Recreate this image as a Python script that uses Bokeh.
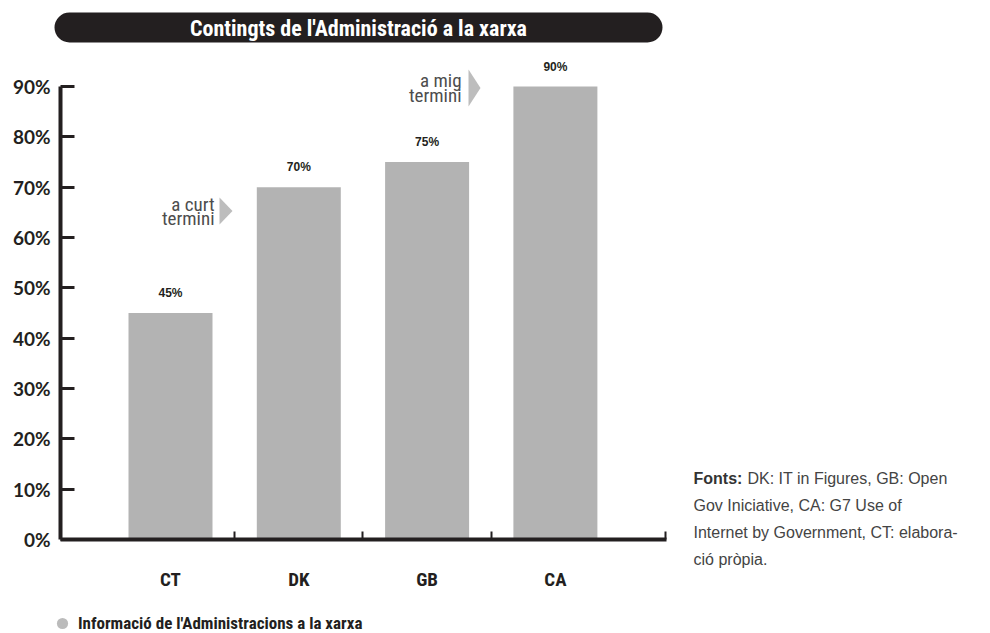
from bokeh.plotting import figure
from bokeh.models import (Range1d, FixedTicker, BoxAnnotation, Legend, LegendItem, Label)
from bokeh.core.properties import value
from bokeh.embed import file_html
from bokeh.resources import INLINE

# ---- data ----
categories = ["CT", "DK", "GB", "CA"]
values = [45, 70, 75, 90]
value_labels = ["45%", "70%", "75%", "90%"]
y_ticks = [0, 10, 20, 30, 40, 50, 60, 70, 80, 90]
y_tick_labels = ["0%", "10%", "20%", "30%", "40%", "50%", "60%", "70%", "80%", "90%"]
title_text = "Contingts de l'Administració a la xarxa"
legend_label = "Informació de l'Administracions a la xarxa"
note_head = "Fonts:"
note_lines = ["DK: IT in Figures, GB: Open", "Gov Iniciative, CA: G7 Use of",
              "Internet by Government, CT: elabora-", "ció pròpia."]

# ---- pixel <-> data helpers (layout only) ----
X0, DX = 170.0, 128.3
Y0, DY = 539.0, 453.0 / 90.0
def fx(sx):
    return (sx - X0) / DX
def fy(sy):
    return (Y0 - sy) / DY

W, H = 990, 633
COND = "Roboto Condensed, Roboto"
DARK = "#231f20"

p = figure(width=W, height=H, output_backend="svg", toolbar_location=None,
           x_range=Range1d(fx(0), fx(W)), y_range=Range1d(fy(H), fy(0)),
           min_border_left=0, min_border_right=0, min_border_top=0,
           min_border_bottom=0)
p.outline_line_color = None
p.xgrid.visible = False
p.ygrid.visible = False
p.background_fill_color = "white"
p.border_fill_color = "white"

xs = list(range(len(categories)))

# bars
p.vbar(x=xs, top=values, width=84 / DX, fill_color="#b3b3b3", line_color=None)
p.text(x=xs, y=values, text=value_labels, y_offset=-20, text_align="center",
       text_baseline="middle", text_font=value("Liberation Sans"),
       text_font_style="bold", text_font_size="12px", text_color=DARK)

# y axis (drawn at a fixed data location inside the frame)
ya = p.yaxis[0]
ya.fixed_location = fx(60)
ya.bounds = (0, 90)
ya.ticker = FixedTicker(ticks=y_ticks, minor_ticks=[])
ya.major_label_overrides = {t: l for t, l in zip(y_ticks, y_tick_labels)}
ya.axis_line_width = 4
ya.axis_line_color = DARK
ya.major_tick_in = 14
ya.major_tick_out = 0
ya.major_tick_line_width = 3
ya.major_tick_line_color = DARK
ya.minor_tick_line_color = None
ya.major_label_standoff = 10
ya.major_label_text_font = "Lato"
ya.major_label_text_font_style = "bold"
ya.major_label_text_font_size = "19px"
ya.major_label_text_color = DARK

# x axis
xa = p.xaxis[0]
xa.fixed_location = 0
x_end = fx(665)
xa.bounds = (fx(60), x_end + 0.01)
xa.ticker = FixedTicker(ticks=xs, minor_ticks=[0.5, 1.5, 2.5, x_end])
xa.major_label_overrides = {i: c for i, c in zip(xs, categories)}
xa.axis_line_width = 4
xa.axis_line_color = DARK
xa.major_tick_in = 0
xa.major_tick_out = 0
xa.minor_tick_in = 8
xa.minor_tick_out = 0
xa.minor_tick_line_width = 2
xa.minor_tick_line_color = DARK
xa.major_label_standoff = 28
xa.major_label_text_font = COND
xa.major_label_text_font_style = "bold"
xa.major_label_text_font_size = "19px"
xa.major_label_text_color = DARK

# title pill
pill = BoxAnnotation(left=fx(54), right=fx(662), bottom=fy(42), top=fy(12),
                     fill_color=DARK, fill_alpha=1, line_color=None, border_radius=15)
p.add_layout(pill)
p.add_layout(Label(x=fx(358), y=fy(27.5), text=title_text, text_align="center",
                   text_baseline="middle", text_font=COND, text_font_style="bold",
                   text_font_size="22px", text_color="white"))

# arrows with notes
p.patches(xs=[[fx(219), fx(219), fx(232)], [fx(468), fx(468), fx(480)]],
          ys=[[fy(197), fy(224), fy(210.5)], [fy(69), fy(106), fy(87.5)]],
          fill_color="#bdbdbd", line_color=None)
p.text(x=[fx(214), fx(214), fx(461), fx(461)],
       y=[fy(204), fy(218), fy(80), fy(95)],
       text=["a curt", "termini", "a mig", "termini"], text_align="right",
       text_baseline="middle", text_font=value(COND), text_font_size="19px",
       text_color="#4d4d4d")

# sources note
p.add_layout(Label(x=fx(693), y=fy(478), text=note_head, text_align="left",
                   text_baseline="middle", text_font="Liberation Sans",
                   text_font_style="bold", text_font_size="16px",
                   text_color="#333333"))
note_x = [fx(747), fx(693), fx(693), fx(693)]
note_y = [fy(478), fy(505), fy(532), fy(559)]
for nx, ny, t in zip(note_x, note_y, note_lines):
    p.add_layout(Label(x=nx, y=ny, text=t, text_align="left",
                       text_baseline="middle", text_font="Liberation Sans",
                       text_font_size="16px", text_color="#444444"))

# legend (the marker renderer carries no visible point; it only styles the key)
nan = float("nan")
dummy = p.scatter(x=[nan], y=[nan], marker="circle", size=11, fill_color="#bbbbbb",
                  line_color=None)
leg = Legend(items=[LegendItem(label=legend_label, renderers=[dummy])],
             location=(48, -4), border_line_color=None,
             background_fill_alpha=0, padding=0, margin=0, label_standoff=2,
             glyph_width=28, glyph_height=28, label_text_font=COND,
             label_text_font_style="bold", label_text_font_size="17px",
             label_text_color=DARK)
p.add_layout(leg, "center")

open("out.html", "w").write(file_html(p, INLINE))
